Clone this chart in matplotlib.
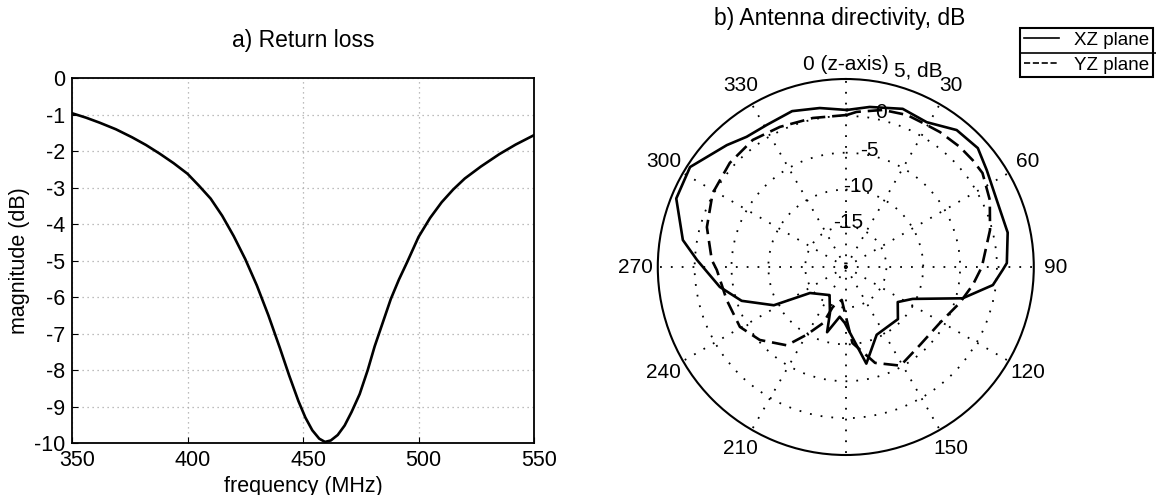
import numpy as np
import matplotlib.pyplot as plt
import matplotlib.transforms as mtransforms
from matplotlib.lines import Line2D

plt.rcParams['font.family'] = ['Liberation Sans', 'DejaVu Sans']
plt.rcParams['axes.unicode_minus'] = False

# a) return loss
freq = [350, 356, 362, 369, 376, 382, 388, 394, 400, 405, 410, 415, 420, 425, 430,
        435, 440, 444, 448, 451, 454, 457, 459.5, 462, 465, 468, 471, 474.5, 478, 481,
        484.5, 488, 491.5, 495, 500, 505, 510, 515, 520, 527, 535, 542, 550]
mag = [-0.96, -1.08, -1.22, -1.40, -1.62, -1.83, -2.07, -2.33, -2.62, -2.95, -3.30,
       -3.77, -4.33, -4.96, -5.68, -6.50, -7.40, -8.15, -8.85, -9.30, -9.65, -9.88,
       -9.97, -9.93, -9.78, -9.52, -9.15, -8.66, -8.0, -7.35, -6.70, -6.05, -5.52,
       -5.05, -4.35, -3.83, -3.40, -3.05, -2.75, -2.42, -2.08, -1.82, -1.56]

# b) directivity, dB
xz_ang = [0.4, 8.5, 19.8, 29.2, 39, 48, 55.5, 66, 78, 88.6, 91, 97, 105, 115.5, 124,
          135, 155.5, 168, 181, 187, 196, 199, 210, 234, 242, 252, 261, 272.7, 279.4,
          292, 302.7, 315.7, 322.7, 331, 341, 350.7]
xz_db = [0.8, 1.45, 2.3, 2.0, 3.4, 3.6, 2.7, 1.9, 1.95, 1.35, 0.8, -0.4, -4.1, -10.45,
         -12.0, -10.5, -10.4, -7.1, -12.9, -13.7, -11.3, -13.9, -16.1, -14.5, -9.45,
         -5.65, -3.2, -0.3, 1.9, 4.3, 4.6, 2.6, 1.7, 1.55, 1.86, 1.35]
yz_ang = [0.4, 4, 13.3, 21.9, 28.1, 34.9, 43.5, 49.9, 55.5, 65, 75.6, 90, 98, 107.5,
          120.8, 136.5, 151, 163, 175, 187, 198, 202, 210, 217, 229.7, 240.5, 254.5,
          268.7, 273, 286, 299, 311.9, 323.8, 334.8, 347.5]
yz_db = [0.12, 0.59, 1.39, 1.73, 1.66, 1.82, 1.96, 2.0, 2.0, 1.05, -0.3, -2.05, -3.1,
         -4.3, -5.66, -5.9, -5.2, -6.9, -10.15, -16.0, -14.8, -12.3, -9.9, -7.2, -5.2,
         -4.0, -3.74, -3.0, -2.3, -0.9, 0.15, 0.64, 0.86, 0.5, 0.2]
r_ticks = [-20, -15, -10, -5, 0]
r_tick_labels = ['-15', '-10', '-5', '0']
ang_ticks = list(range(0, 360, 30))
ang_labels = ['0 (z-axis)', '30', '60', '90', '120', '150', '', '210', '240', '270', '300', '330']

fig = plt.figure(figsize=(11.56, 4.95), dpi=100)

ax1 = fig.add_axes([0.0623, 0.105, 0.3997, 0.737])
ax1.plot(freq, mag, 'k-', lw=1.9)
ax1.set_xlim(350, 550)
ax1.set_ylim(-10, 0)
ax1.set_xticks([350, 400, 450, 500, 550])
ax1.set_yticks(range(-10, 1))
ax1.grid(True, linestyle=(0, (1, 3)), color='#a8a8a8', lw=0.9)
ax1.tick_params(direction='in', labelsize=15.5, length=4, pad=5)
# x labels sit a little right of their ticks in the original
shift = mtransforms.ScaledTranslation(5 / 100, 0, fig.dpi_scale_trans)
for lab in ax1.get_xticklabels():
    lab.set_transform(lab.get_transform() + shift)
for s in ax1.spines.values():
    s.set_linewidth(1.3)
ax1.set_xlabel('frequency (MHz)', fontsize=15.5)
ax1.xaxis.set_label_coords(0.5, -0.09)
ax1.set_ylabel('magnitude (dB)', fontsize=15.5)
ax1.yaxis.set_label_coords(-0.09, 0.5)
fig.text(303 / 1156, 1 - 40 / 495, 'a) Return loss', ha='center', va='center', fontsize=16.5)

ax2 = fig.add_axes([0.569, 0.0808, 0.3253, 0.7596], projection='polar')
ax2.set_theta_zero_location('N')
ax2.set_theta_direction(-1)
ax2.set_rlim(-20.5, 5)
ax2.set_yticks(r_ticks)
ax2.set_yticklabels([])
ax2.set_xticks(np.deg2rad(ang_ticks))
ax2.set_xticklabels([])
ax2.grid(True, linestyle=(0, (1, 5)), color='k', lw=1.3)
ax2.spines['polar'].set_linewidth(1.5)

t = np.deg2rad(xz_ang + [xz_ang[0] + 360])
ax2.plot(t, xz_db + [xz_db[0]], 'k-', lw=1.9)
t = np.deg2rad(yz_ang + [yz_ang[0] + 360])
l2, = ax2.plot(t, yz_db + [yz_db[0]], 'k--', lw=1.9)
l2.set_dashes([5.5, 2.6])

for a, lab in zip(ang_ticks, ang_labels):
    rr = 7.0 if a == 0 else 8.0
    ax2.text(np.deg2rad(a), rr, lab, ha='center', va='center', fontsize=15, clip_on=False)
lab_pos = [(2.5, -14.4), (8.5, -9.5), (11.7, -4.42), (12.8, 0.94)]
for (a, rr), lab in zip(lab_pos, r_tick_labels):
    ax2.text(np.deg2rad(a), rr, lab, ha='center', va='center', fontsize=15)
ax2.text(np.deg2rad(20.2), 7.83, '5, dB', ha='center', va='center', fontsize=15, clip_on=False)
fig.text(840 / 1156, 1 - 18 / 495, 'b) Antenna directivity, dB', ha='center', va='center', fontsize=16.5)

h1 = Line2D([], [], color='k', lw=1.2)
h2 = Line2D([], [], color='k', lw=1.2, ls='--')
leg = fig.legend([h1, h2], ['XZ plane', 'YZ plane'], loc='upper left',
                 bbox_to_anchor=(1020 / 1156, 1 - 28 / 495), fancybox=False,
                 edgecolor='k', fontsize=13.5, handlelength=1.9, borderpad=0.2,
                 labelspacing=0.4, handletextpad=0.8, borderaxespad=0, framealpha=1)
leg.get_frame().set_linewidth(1.5)
fig.add_artist(Line2D([1020 / 1156, 1], [1 - 53 / 495, 1 - 53 / 495], color='k', lw=1.2, zorder=10))

plt.savefig('out.png', dpi=100)
